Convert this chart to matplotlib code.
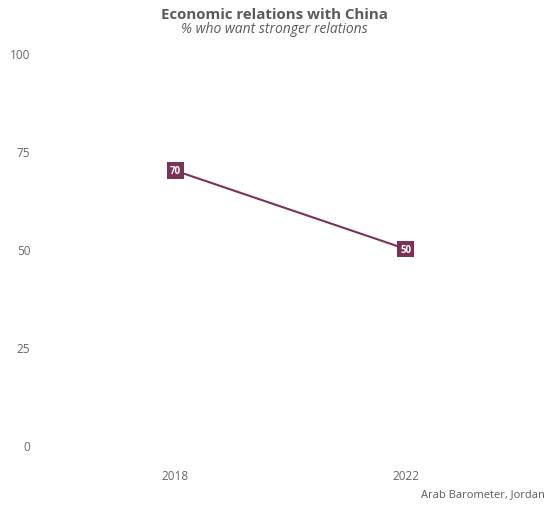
import matplotlib
matplotlib.use("Agg")
import matplotlib.pyplot as plt

years = [2018, 2022]
values = [70, 50]
yticks = [0, 25, 50, 75, 100]

line_col = "#7B3259"
grey = "#5a5a5a"

plt.rcParams['font.family'] = ['Open Sans', 'DejaVu Sans']

fig = plt.figure(figsize=(5.49, 5.06), dpi=100)
ax = fig.add_axes([40 / 549, 0.0875, 501 / 549, 0.9243 - 0.0875])

ax.plot(years, values, color=line_col, linewidth=1.5, zorder=2)
for x, v in zip(years, values):
    ax.text(x, v, str(v), ha="center", va="center", color="white",
            fontsize=7, fontweight="bold", zorder=3,
            bbox=dict(boxstyle="square,pad=0.3", fc=line_col, ec="none"))

ax.set_xlim(2015.66, 2024.34)
ax.set_ylim(-4, 104)
ax.set_xticks(years)
ax.set_xticklabels([str(y) for y in years])
ax.set_yticks(yticks)
ax.tick_params(length=0, labelsize=8.5, labelcolor="#666666", pad=7)
ax.tick_params(axis="x", pad=6)
for s in ax.spines.values():
    s.set_visible(False)
ax.grid(False)

fig.text(0.5, 1 - 15 / 506, "Economic relations with China", ha="center",
         va="center", fontsize=10.8, fontweight="bold", color=grey)
fig.text(0.5, 1 - 29.5 / 506, "% who want stronger relations", ha="center",
         va="center", fontsize=10, style="italic", color=grey)
fig.text(545 / 549, 1 - 495 / 506, "Arab Barometer, Jordan", ha="right",
         va="center", fontsize=8, color=grey)

fig.savefig("out.png", dpi=100)
